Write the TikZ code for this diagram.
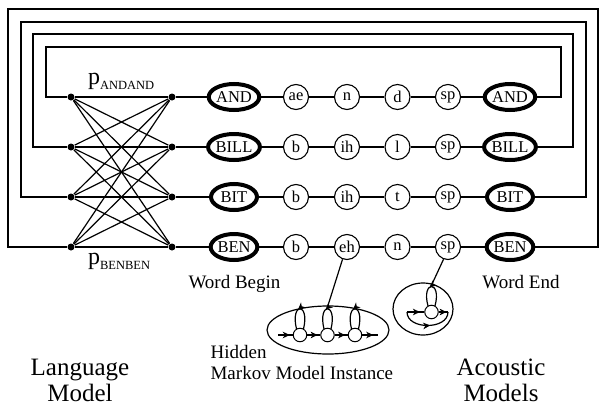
\documentclass[tikz,border=0pt]{standalone}
\usepackage{fontspec}
\setmainfont{Liberation Serif}
\usetikzlibrary{arrows.meta,decorations.markings,shapes.geometric}
\begin{document}
\begin{tikzpicture}[x=1pt,y=-1pt,line width=1.2pt,
  wordnode/.style={ellipse,draw,line width=4pt,minimum width=46pt,minimum height=26pt,inner sep=0pt,font=\fontsize{16.5}{16.5}\selectfont},
  phone/.style={circle,draw,line width=1.1pt,minimum size=25pt,inner sep=0pt,font=\fontsize{16.5}{16.5}\selectfont},
  lmdot/.style={circle,fill,minimum size=7pt,inner sep=0pt},
  hstate/.style={circle,draw,fill=white,line width=1pt,minimum size=13.5pt,inner sep=0pt},
  hmmbox/.style={ellipse,draw,line width=1.2pt,inner sep=0pt},
  arr/.style={decoration={markings,mark=at position #1 with {\arrow{Stealth[length=7pt,width=6.5pt,inset=2pt]}}},postaction={decorate}},
  arr/.default=0.6,
  lbl/.style={font=\fontsize{19}{19}\selectfont,inner sep=0pt,anchor=base},
  biglbl/.style={font=\fontsize{25}{25}\selectfont,inner sep=0pt,anchor=base}]
\useasboundingbox (0,0) rectangle (606,410);

% rows
\foreach \r/\y/\w/\a/\b/\c/\d/\lx/\ty/\rx in
  {1/97/AND/ae/n/d/sp/46/47/561,
   2/147/BILL/b/ih/l/sp/33/34/573,
   3/197/BIT/b/ih/t/sp/21/22/586,
   4/247/BEN/b/eh/n/sp/8/9/598}{
  \node[lmdot] (dl\r) at (71,\y) {};
  \node[lmdot] (dr\r) at (172,\y) {};
  \node[wordnode] (wb\r) at (234,\y) {\w};
  \node[phone] (pa\r) at (296,\y) {\a};
  \node[phone] (pb\r) at (347,\y) {\b};
  \node[phone] (pc\r) at (397.5,\y) {\c};
  \node[phone] (pd\r) at (448,\y) {\d};
  \node[wordnode] (we\r) at (510,\y) {\w};
  \draw (dr\r) -- (wb\r) -- (pa\r) -- (pb\r) -- (pc\r) -- (pd\r) -- (we\r);
  \draw (we\r) -- (\rx,\y) -- (\rx,\ty) -- (\lx,\ty) -- (\lx,\y) -- (dl\r);
}
% bigram connections
\foreach \i in {1,...,4}{
  \foreach \j in {1,...,4}{
    \draw (dl\i) -- (dr\j);
  }
}

% probability labels
\node[inner sep=0pt,anchor=base west] (pand) at (87.5,84)
  {\fontsize{24}{24}\selectfont p\raisebox{-5pt}{\fontsize{12.5}{12.5}\selectfont ANDAND}};
\node[inner sep=0pt,anchor=base west] (pben) at (87.5,264)
  {\fontsize{24}{24}\selectfont p\raisebox{-5pt}{\fontsize{12.5}{12.5}\selectfont BENBEN}};

\node[lbl] (wbeg) at (234.5,288) {Word Begin};
\node[lbl] (wend) at (521,288) {Word End};

% HMM instance
\node[hmmbox,minimum width=122pt,minimum height=48pt] (hmm1) at (328,330) {};
\coordinate (hin) at (278,335);
\coordinate (hout) at (378,335);
\foreach \x in {300,327.5,355}{
  \draw[arr=0.55] (\x+3.5,329) .. controls (\x+10,302) and (\x-10,302) .. (\x-3.5,329);
}
\node[hstate] (s1) at (300,335) {};
\node[hstate] (s2) at (327.5,335) {};
\node[hstate] (s3) at (355,335) {};
\draw[arr=0.8] (hin) -- (s1);
\draw[arr=0.8] (s1) -- (s2);
\draw[arr=0.8] (s2) -- (s3);
\draw[arr=0.7] (s3) -- (hout);
\draw (pb4.250) -- (hmm1.north);

% sp model
\node[hmmbox,minimum width=60pt,minimum height=52pt] (hmm2) at (423,309) {};
\coordinate (tin) at (407,312);
\coordinate (tout) at (448,312);
\draw[arr=0.55] (tin) .. controls (407,330) and (448,330) .. (tout);
\draw[arr=0.55] (435,306) .. controls (442,280) and (421,280) .. (428,306);
\node[hstate] (t1) at (431.5,312) {};
\draw[arr=0.75] (tin) -- (t1);
\draw[arr=0.85] (t1) -- (tout);
\draw (pd4.250) -- (hmm2.70);

% bottom labels
\node[biglbl] (lm1) at (80,375) {Language};
\node[biglbl] (lm2) at (80,401) {Model};
\node[lbl,anchor=base west] (hid1) at (210,358) {Hidden};
\node[lbl,anchor=base west] (hid2) at (210,379) {Markov Model Instance};
\node[biglbl] (am1) at (501,375) {Acoustic};
\node[biglbl] (am2) at (501,401) {Models};
\end{tikzpicture}
\end{document}
